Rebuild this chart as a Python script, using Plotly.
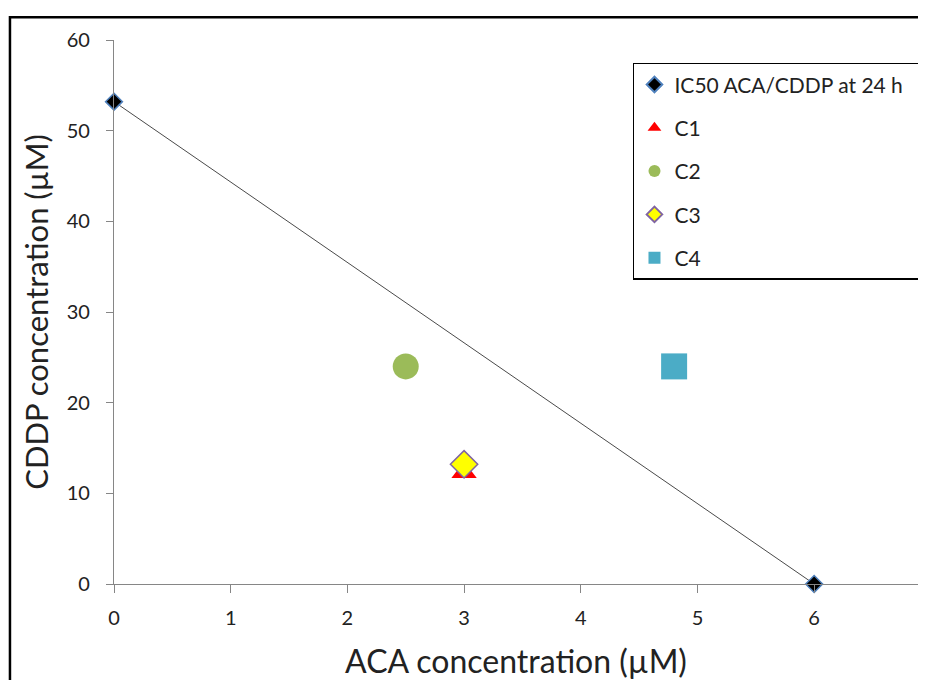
import plotly.graph_objects as go

# Data
ic50_x = [0, 6]
ic50_y = [53.2, 0]
c1_x, c1_y = [3], [12.3]
c2_x, c2_y = [2.5], [24]
c3_x, c3_y = [3], [13.2]
c4_x, c4_y = [4.8], [24]
x_ticks = [0, 1, 2, 3, 4, 5, 6, 7]
y_ticks = [0, 10, 20, 30, 40, 50, 60]

FONT = "Lato"
NB = "\u00a0"

fig = go.Figure()
fig.add_trace(go.Scatter(
    x=ic50_x, y=ic50_y, mode="lines", line=dict(color="#4a4a4a", width=1),
    showlegend=False, hoverinfo="skip"))
fig.add_trace(go.Scatter(
    x=ic50_x, y=ic50_y, mode="markers", name="IC50 ACA/CDDP at 24 h" + NB * 2,
    marker=dict(symbol="diamond", size=13, color="black", line=dict(color="#4F81BD", width=1.5)),
    cliponaxis=False, legendgroup="a"))
fig.add_trace(go.Scatter(
    x=c1_x, y=c1_y, mode="markers", name="C1",
    marker=dict(symbol="triangle-up", size=22, color="#FF0000"),
    cliponaxis=False, legendgroup="b"))
fig.add_trace(go.Scatter(
    x=c2_x, y=c2_y, mode="markers", name="C2",
    marker=dict(symbol="circle", size=26, color="#9BBB59"),
    cliponaxis=False, legendgroup="c"))
fig.add_trace(go.Scatter(
    x=c3_x, y=c3_y, mode="markers", name="C3",
    marker=dict(symbol="diamond", size=21, color="#FFFF00", line=dict(color="#8064A2", width=1.5)),
    cliponaxis=False, legendgroup="d"))
fig.add_trace(go.Scatter(
    x=c4_x, y=c4_y, mode="markers", name="C4",
    marker=dict(symbol="square", size=26, color="#4BACC6"),
    cliponaxis=False, legendgroup="e"))

fig.add_shape(type="rect", xref="paper", yref="paper", x0=-0.1294, y0=-0.4, x1=1.1, y1=1.042,
              line=dict(color="black", width=2.5), fillcolor="rgba(0,0,0,0)", layer="above")

fig.update_layout(
    width=910, height=672,
    margin=dict(l=106, r=0, t=32, b=96, autoexpand=False),
    paper_bgcolor="white", plot_bgcolor="white",
    font=dict(family=FONT, color="#222"),
    showlegend=True,
    legend=dict(x=0.6455, y=0.958, xanchor="left", yanchor="top",
                bordercolor="black", borderwidth=1.5, bgcolor="white",
                font=dict(size=21, family=FONT, color="#222"),
                tracegroupgap=13, itemsizing="constant"),
    xaxis=dict(range=[0, 6.89], tickvals=x_ticks, showgrid=False, zeroline=False,
               showline=True, linecolor="#868686", linewidth=1.2,
               ticks="outside", ticklen=8, tickcolor="#868686", ticklabelstandoff=8,
               tickfont=dict(size=20, family=FONT),
               title=dict(text="ACA concentration (µM)", font=dict(size=32, family=FONT), standoff=22)),
    yaxis=dict(range=[0, 60], tickvals=y_ticks, showgrid=False, zeroline=False,
               showline=True, linecolor="#868686", linewidth=1.2,
               ticks="outside", ticklen=7, tickcolor="#868686", ticklabelstandoff=12,
               tickfont=dict(size=20, family=FONT),
               title=dict(text="CDDP concentration (µM)", font=dict(size=31, family=FONT), standoff=8)),
)

fig.write_html("out.html")
